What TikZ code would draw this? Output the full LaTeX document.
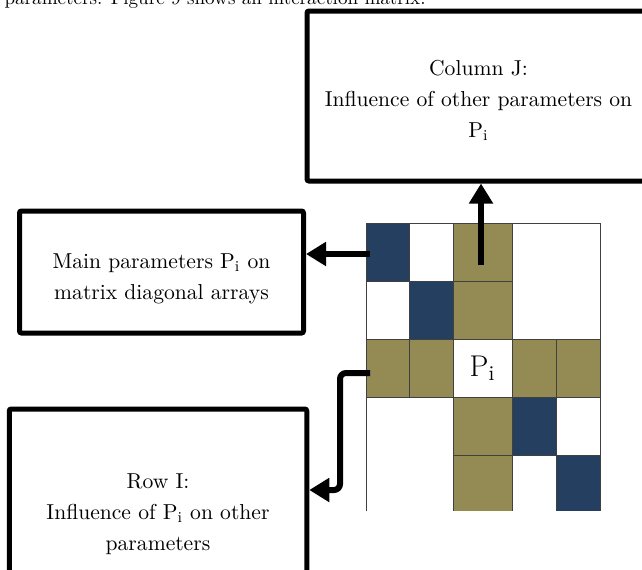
\documentclass[tikz,border=0pt]{standalone}
\usepackage{tikz}
\usetikzlibrary{arrows.meta, positioning, calc}
\definecolor{matrixnavy}{HTML}{243F60}
\definecolor{matrixolive}{HTML}{948A54}

\begin{document}
\begin{tikzpicture}[
  x=0.5pt, y=-0.5pt,
  every node/.style={font=\fontsize{10.8}{15.5}\selectfont},
  textbox/.style={draw, line width=2.5pt, rounded corners=1pt, align=center, inner sep=0pt},
  cell/.style={draw=black!75, line width=0.5pt, inner sep=0pt, minimum height=29pt},
  navycell/.style={cell, fill=matrixnavy},
  olivecell/.style={cell, fill=matrixolive},
  whitecell/.style={cell, fill=white},
  bigarrow/.style={-{Triangle[width=11.5pt, length=10pt]}, line width=3pt},
]
  \useasboundingbox (0,0) rectangle (642,569);
  \clip (0,0) rectangle (642,569);

  % Line of running text cut at the top
  \node[anchor=base east, inner sep=0pt, font=\fontsize{9.55}{11}\selectfont] (intro) at (426,4)
      {parameters. Figure 9 shows an interaction matrix.};

  % Interaction matrix
  \begin{scope}
    \clip (350,215) rectangle (610,510);
    % row 1
    \node[navycell, minimum width=21.5pt] (c11) at (387.5,252) {};
    \node[whitecell, minimum width=22pt] (c12) at (431,252) {};
    \node[olivecell, minimum width=29.5pt] (c13) at (482.5,252) {};
    \node[whitecell, minimum width=44pt, minimum height=58pt] (topright) at (556,281) {};
    % row 2
    \node[whitecell, minimum width=21.5pt] (c21) at (387.5,310) {};
    \node[navycell, minimum width=22pt] (c22) at (431,310) {};
    \node[olivecell, minimum width=29.5pt] (c23) at (482.5,310) {};
    % row 3
    \node[olivecell, minimum width=21.5pt] (c31) at (387.5,368) {};
    \node[olivecell, minimum width=22pt] (c32) at (431,368) {};
    \node[whitecell, minimum width=29.5pt, font=\fontsize{15}{18}\selectfont] (c33) at (482.5,368) {P\textsubscript{i}};
    \node[olivecell, minimum width=22pt] (c34) at (534,368) {};
    \node[olivecell, minimum width=22pt] (c35) at (578,368) {};
    % row 4
    \node[whitecell, minimum width=43.5pt, minimum height=58pt] (bottomleft) at (409.5,455) {};
    \node[olivecell, minimum width=29.5pt] (c43) at (482.5,426) {};
    \node[navycell, minimum width=22pt] (c44) at (534,426) {};
    \node[whitecell, minimum width=22pt] (c45) at (578,426) {};
    % row 5
    \node[olivecell, minimum width=29.5pt] (c53) at (482.5,484) {};
    \node[whitecell, minimum width=22pt] (c54) at (534,484) {};
    \node[navycell, minimum width=22pt] (c55) at (578,484) {};
  \end{scope}

  % Explanation boxes
  \node[textbox, minimum width=171.5pt, minimum height=85pt] (colbox) at (478.5,96)
      {\rule{0pt}{12pt}Column J:\\ Influence of other parameters on\\ P\textsubscript{i}};
  \node[textbox, minimum width=142pt, minimum height=61pt] (mainbox) at (161.5,272)
      {\rule{0pt}{14pt}Main parameters P\textsubscript{i} on\\ matrix diagonal arrays};
  \node[textbox, minimum width=148.75pt, minimum height=105pt] (rowbox) at (158,514)
      {Row I:\\ Influence of P\textsubscript{i} on other\\ parameters};

  % Arrows
  \coordinate (upstart) at (481,265);
  \coordinate (leftstart) at (370,254);
  \coordinate (rowstart) at (370,373);
  \coordinate (rowbend) at (340,373);
  \coordinate (rowend) at (340,490);
  \draw[bigarrow] (upstart) -- (upstart |- colbox.south);
  \draw[bigarrow] (leftstart) -- (mainbox.east |- leftstart);
  \draw[bigarrow, rounded corners=3pt] (rowstart) -- (rowbend) -- (rowend) -- (rowbox.east |- rowend);
\end{tikzpicture}
\end{document}
